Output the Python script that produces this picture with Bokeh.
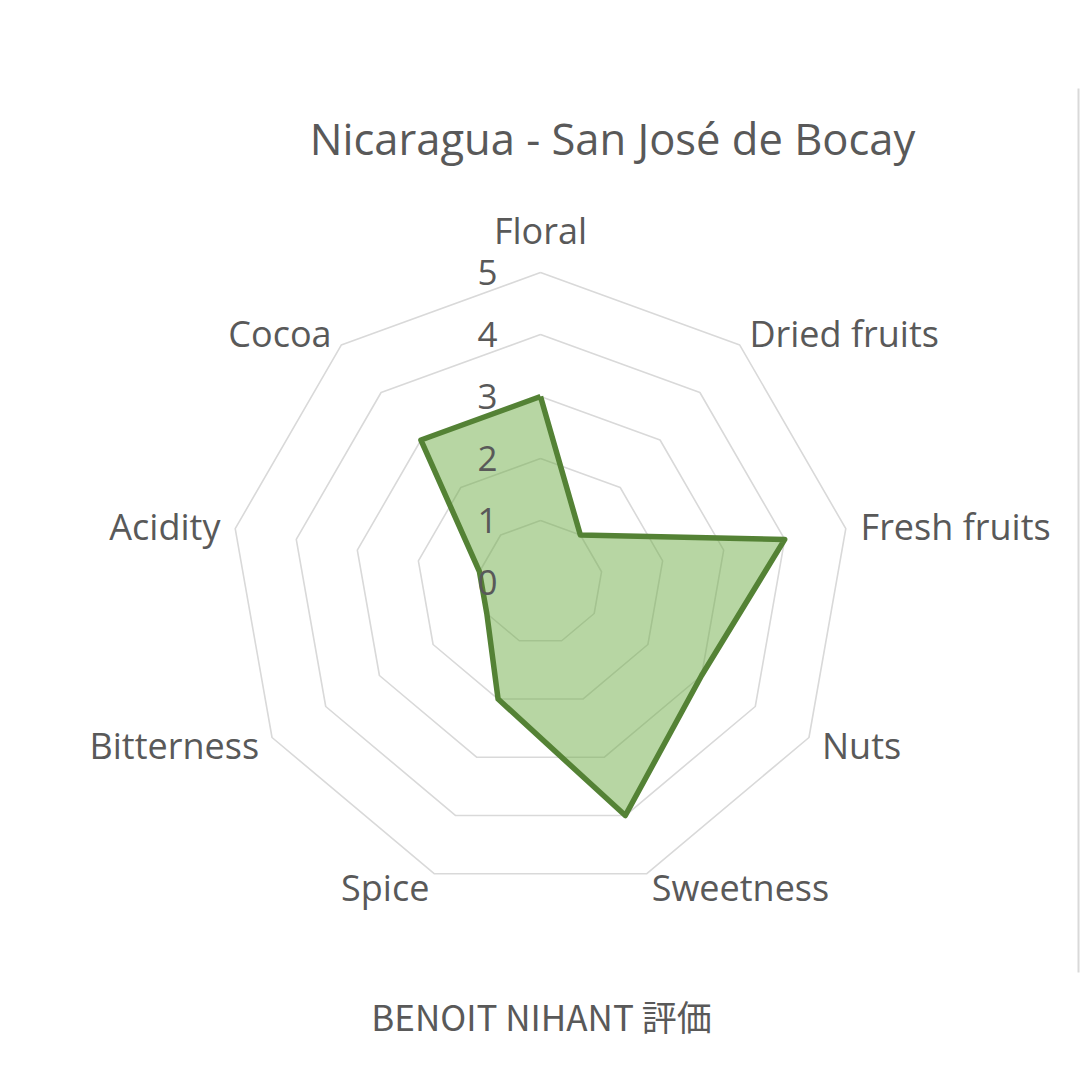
import numpy as np
from bokeh.plotting import figure
from bokeh.models import ColumnDataSource, Range1d, Label
from bokeh.core.properties import value
from bokeh.embed import file_html
from bokeh.resources import INLINE

# ---- data ----
title_text = "Nicaragua - San José de Bocay"
footer_text = "BENOIT NIHANT 評価"
categories = ["Floral", "Dried fruits", "Fresh fruits", "Nuts", "Sweetness",
              "Spice", "Bitterness", "Acidity", "Cocoa"]
scores = [3, 1, 4, 3, 4, 2, 1, 1, 3]
ring_levels = [1, 2, 3, 4, 5]
tick_values = [0, 1, 2, 3, 4, 5]
tick_labels = ["0", "1", "2", "3", "4", "5"]

# ---- layout ----
W = H = 1080
PX = 62.0              # pixels per score unit
CX, CY = 540.0, 582.0  # chart centre in figure pixels
FONT = "Open Sans"
TXT = "#595959"


def to_data(px, py):
    """figure pixel -> data coordinates"""
    return (px - CX) / PX, (CY - py) / PX


p = figure(width=W, height=H, output_backend="svg", toolbar_location=None,
           x_range=Range1d(-CX / PX, (W - CX) / PX),
           y_range=Range1d(-(H - CY) / PX, CY / PX),
           x_axis_type=None, y_axis_type=None, min_border=0,
           outline_line_color=None, background_fill_color="white",
           border_fill_color="white")
p.grid.visible = False

n = len(categories)
theta = 2 * np.pi * np.arange(n) / n
sx, sy = np.sin(theta), np.cos(theta)

# grid rings
ring_xs = [list(np.append(r * sx, r * sx[0])) for r in ring_levels]
ring_ys = [list(np.append(r * sy, r * sy[0])) for r in ring_levels]
p.multi_line(ring_xs, ring_ys, line_color="#d9d9d9", line_width=1.6)

# data polygon
vals = np.array(scores, dtype=float)
px_ = vals * sx
py_ = vals * sy
p.patch(list(px_), list(py_), fill_color="#70ad47", fill_alpha=0.5, line_color=None)
p.line(list(np.append(px_, px_[0])), list(np.append(py_, py_[0])),
       line_color="#548235", line_width=5.5, line_join="round")

# tick labels along the first axis
p.text(x=[0] * len(tick_values), y=tick_values, text=tick_labels,
       x_offset=-53, y_offset=0, text_align="center", text_baseline="middle",
       text_font=value(FONT), text_font_size="35px", text_color=TXT)

# category labels
R = max(ring_levels)
groups = {"left": [], "right": [], "center": []}
for i, c in enumerate(categories):
    s, co = sx[i], sy[i]
    if abs(s) < 0.2:
        align = "center"
        d = 42
    else:
        align = "left" if s > 0 else "right"
        d = 15
    groups[align].append((R * s, R * co, c, d * s, -d * co))
for align, rows in groups.items():
    if not rows:
        continue
    src = ColumnDataSource(dict(x=[r[0] for r in rows], y=[r[1] for r in rows],
                                text=[r[2] for r in rows],
                                xo=[r[3] for r in rows], yo=[r[4] for r in rows]))
    p.text(x="x", y="y", text="text", x_offset="xo", y_offset="yo", source=src,
           text_align=align, text_baseline="middle",
           text_font=value(FONT), text_font_size="36px", text_color=TXT)

# title
tx, ty = to_data(612, 138)
p.add_layout(Label(x=tx, y=ty, text=title_text, text_align="center",
                   text_baseline="middle", text_font=FONT,
                   text_font_size="43.5px", text_color=TXT))

# footer
fx, fy = to_data(541, 1015)
p.add_layout(Label(x=fx, y=fy, text=footer_text, text_align="center",
                   text_baseline="middle", text_font="Noto Sans CJK JP",
                   text_font_size="35px", text_color=TXT))

# right border of the chart area
bx, by0 = to_data(1078, 88)
_, by1 = to_data(1078, 972)
p.segment(x0=[bx], y0=[by0], x1=[bx], y1=[by1], line_color="#d9d9d9", line_width=2)

open("out.html", "w").write(file_html(p, INLINE))
